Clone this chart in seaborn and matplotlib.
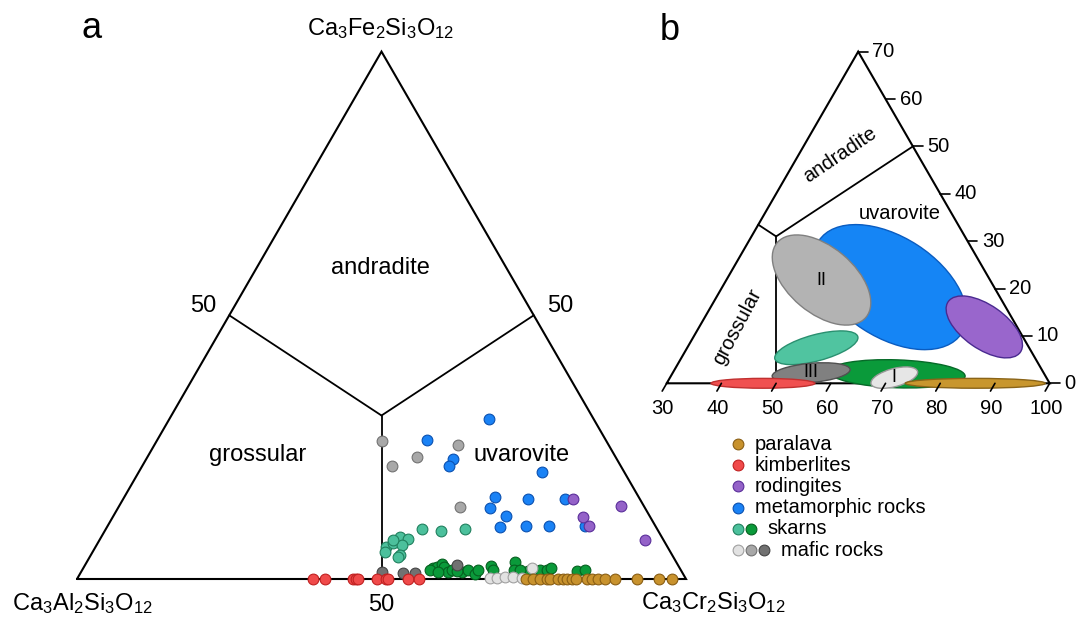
import numpy as np
import matplotlib
matplotlib.use("Agg")
import matplotlib.pyplot as plt
import seaborn as sns
from matplotlib.patches import Ellipse

sns.set_theme(style="white")
plt.rcParams["font.family"] = ["Liberation Sans", "DejaVu Sans"]
plt.rcParams["text.color"] = "black"
plt.rcParams["mathtext.fontset"] = "custom"
plt.rcParams["mathtext.rm"] = "Liberation Sans"
plt.rcParams["mathtext.it"] = "Liberation Sans:italic"
plt.rcParams["mathtext.bf"] = "Liberation Sans:bold"

# --- garnet compositions, mol % uvarovite (Cr) and andradite (Fe); rest is grossular
paralava_cr = [73.8, 74.9, 76.0, 77.1, 77.7, 79.0, 79.8, 80.4, 81.2, 82.0, 83.7, 84.5,
               85.6, 86.7, 88.3, 92.0, 95.5, 97.7]
paralava_fe = [0.0, 0.0, 0.0, 0.0, 0.0, 0.0, 0.0, 0.0, 0.0, 0.0, 0.0, 0.0,
               0.0, 0.0, 0.0, 0.0, 0.0, 0.0]
kimberlite_cr = [38.7, 40.7, 45.3, 45.8, 46.2, 49.2, 50.7, 51.1, 54.4, 56.2]
kimberlite_fe = [0.0, 0.0, 0.0, 0.0, 0.0, 0.0, 0.0, 0.0, 0.0, 0.0]
rodingite_cr = [73.9, 82.5, 77.2, 79.1, 89.5]
rodingite_fe = [15.1, 13.8, 11.8, 10.1, 7.4]
metamorphic_cr = [52.4, 44.4, 50.4, 50.4, 66.3, 60.9, 66.4, 72.6, 61.0, 64.5, 64.6,
                  68.7, 72.4, 78.4]
metamorphic_fe = [30.4, 26.3, 22.8, 21.5, 20.2, 15.6, 15.2, 15.2, 13.5, 12.0, 9.8,
                  10.1, 10.1, 10.1]
skarn_teal_cr = [51.9, 55.2, 59.0, 47.7, 48.0, 48.4, 49.0, 50.6, 50.1, 50.8, 50.7, 48.2]
skarn_teal_fe = [9.4, 9.1, 9.4, 6.1, 5.2, 6.9, 8.0, 7.6, 6.5, 4.6, 4.1, 7.4]
skarn_green_cr = [57.5, 57.9, 58.5, 59.1, 60.3, 60.7, 62.5, 63.4, 64.9, 65.0, 66.8, 67.5,
                  70.3, 70.9, 57.1, 58.6, 61.6, 73.3, 75.2, 76.3, 76.9, 81.3, 82.5, 71.9]
skarn_green_fe = [2.0, 2.3, 2.8, 2.3, 1.4, 1.7, 1.4, 1.7, 1.0, 1.8, 2.5, 1.7,
                  3.3, 1.7, 1.7, 1.4, 1.6, 1.6, 1.7, 1.7, 2.0, 1.6, 1.8, 1.7]
mafic_mid_cr = [36.9, 41.0, 44.3, 49.8, 56.1]
mafic_mid_fe = [26.2, 21.5, 23.2, 25.5, 13.7]
mafic_dark_cr = [49.4, 53.0, 54.9, 61.0]
mafic_dark_fe = [1.3, 1.2, 1.2, 2.7]
mafic_light_cr = [67.8, 68.9, 70.1, 71.4, 73.0, 73.7]
mafic_light_fe = [0.1, 0.1, 0.4, 0.4, 0.1, 2.1]

# composition fields of panel b (centre composition, size in % units, tilt)
field_names = ["metamorphic", "II", "rodingites", "skarns teal", "skarns green",
               "III", "I", "kimberlites", "paralava"]
field_cr = [60.7, 47.4, 82.1, 53.6, 71.1, 55.3, 71.0, 47.6, 86.4]
field_fe = [20.3, 21.8, 11.9, 7.5, 2.0, 2.2, 1.2, 0.0, 0.0]
field_width = [31.1, 21.2, 16.1, 15.7, 24.9, 14.3, 8.8, 19.0, 25.6]
field_height = [18.3, 12.1, 8.0, 4.8, 5.1, 3.5, 3.3, 1.8, 1.8]
field_angle = [-33, -40, -35, 15, -2, 5, 15, 0, 0]

# boundary junction of the three fields
junction_cr, junction_fe = 34.5, 31.0

b_ticks = [30, 40, 50, 60, 70, 80, 90, 100]
r_ticks = [0, 10, 20, 30, 40, 50, 60, 70]

colors = {
    "paralava": ("#c8922d", "#8a5e14"),
    "kimberlites": ("#f04a4a", "#c02020"),
    "rodingites": ("#9462c8", "#5a2e9a"),
    "metamorphic": ("#1a82f5", "#0a50b0"),
    "skarns teal": ("#4cc09c", "#20805e"),
    "skarns green": ("#0a9a3a", "#05601f"),
    "mafic light": ("#e2e2e2", "#a0a0a0"),
    "mafic mid": ("#a8a8a8", "#727272"),
    "mafic dark": ("#717171", "#444444"),
}
field_colors = {
    "metamorphic": ("#1585f5", "#0a5cc0"),
    "II": ("#b3b3b3", "#808080"),
    "rodingites": ("#9966cc", "#4a2a90"),
    "skarns teal": ("#50c4a0", "#2a9070"),
    "skarns green": ("#0a9a3a", "#066a28"),
    "III": ("#808080", "#505050"),
    "I": ("#e6e6e6", "#999999"),
    "kimberlites": ("#f05050", "#c03030"),
    "paralava": ("#c8962e", "#8a6418"),
}


def tern(cr, fe):
    cr = np.asarray(cr, dtype=float)
    fe = np.asarray(fe, dtype=float)
    return cr + fe / 2.0, fe * np.sqrt(3) / 2.0


W, H = 1076, 618
fig = plt.figure(figsize=(W / 100, H / 100), dpi=100)


def full_axes(x0_px, y0_px, x0_val, scale):
    # axes over the whole figure; data value x0_val/0 sits at pixel (x0_px, y0_px)
    ax = fig.add_axes([0, 0, 1, 1])
    ax.set_xlim(x0_val - x0_px / scale, x0_val + (W - x0_px) / scale)
    ax.set_ylim(-(H - y0_px) / scale, y0_px / scale)
    ax.axis("off")
    return ax


def ftext(x, y, s, **kw):
    fig.text(x / W, 1 - y / H, s, **kw)


# ---------------- panel a ----------------
ax_a = full_axes(77, 579, 0, 6.09)
corners = tern([0, 100, 0, 0], [0, 0, 100, 0])
ax_a.plot(corners[0], corners[1], color="black", lw=1.5, solid_joinstyle="miter")
jx, jy = tern(junction_cr, junction_fe)
for cr, fe in [(0, 50), (50, 50), (50, 0)]:
    ex, ey = tern(cr, fe)
    ax_a.plot([jx, ex], [jy, ey], color="black", lw=1.3)

groups = [
    ("mafic mid", mafic_mid_cr, mafic_mid_fe),
    ("metamorphic", metamorphic_cr, metamorphic_fe),
    ("rodingites", rodingite_cr, rodingite_fe),
    ("skarns teal", skarn_teal_cr, skarn_teal_fe),
    ("skarns green", skarn_green_cr, skarn_green_fe),
    ("mafic dark", mafic_dark_cr, mafic_dark_fe),
    ("mafic light", mafic_light_cr, mafic_light_fe),
    ("kimberlites", kimberlite_cr, kimberlite_fe),
    ("paralava", paralava_cr, paralava_fe),
]
for name, cr, fe in groups:
    x, y = tern(cr, fe)
    fill, edge = colors[name]
    sns.scatterplot(x=x, y=y, ax=ax_a, color=fill, edgecolor=edge, s=60,
                    linewidth=0.8, zorder=3, legend=False, clip_on=False)

fs_a = 17
ftext(92, 28, "a", fontsize=26, ha="center", va="center")
ftext(381, 35, r"Ca$_3$Fe$_2$Si$_3$O$_{12}$", fontsize=fs_a, ha="center", va="baseline")
ftext(12, 610, r"Ca$_3$Al$_2$Si$_3$O$_{12}$", fontsize=fs_a, ha="left", va="baseline")
ftext(641, 609, r"Ca$_3$Cr$_2$Si$_3$O$_{12}$", fontsize=fs_a, ha="left", va="baseline")
ftext(380, 268, "andradite", fontsize=fs_a, ha="center", va="center")
ftext(258, 455, "grossular", fontsize=fs_a, ha="center", va="center")
ftext(522, 455, "uvarovite", fontsize=fs_a, ha="center", va="center")
ftext(203, 306, "50", fontsize=fs_a, ha="center", va="center")
ftext(560, 306, "50", fontsize=fs_a, ha="center", va="center")
ftext(381, 605, "50", fontsize=fs_a, ha="center", va="center")

# ---------------- panel b ----------------
sb = 5.471
ax_b = full_axes(666.7, 383.3, 30, sb)
bx, by = tern([30, 100, 30, 30], [0, 0, 70, 0])
ax_b.plot(bx, by, color="black", lw=1.5, solid_joinstyle="miter")

# boundaries cut to the Cr >= 30 window
ex, ey = tern(50, 0)
ax_b.plot([jx, ex], [jy, ey], color="black", lw=1.3)
ex, ey = tern(50, 50)
ax_b.plot([jx, ex], [jy, ey], color="black", lw=1.3)
t = (junction_cr - 30) / junction_cr
ex, ey = tern(30, junction_fe + (50 - junction_fe) * t)
ax_b.plot([jx, ex], [jy, ey], color="black", lw=1.3)

for name, cr, fe, w, h, ang in zip(field_names, field_cr, field_fe, field_width,
                                   field_height, field_angle):
    fill, edge = field_colors[name]
    ax_b.add_patch(Ellipse(tern(cr, fe), w, h, angle=ang, facecolor=fill,
                           edgecolor=edge, lw=1.0, zorder=2))
    if name in ("I", "II", "III"):
        x, y = tern(cr, fe)
        ax_b.text(x, y, name, fontsize=13, ha="center", va="center", zorder=4)

tick_len = 9 / sb
for c in b_ticks:
    x, y = tern(c, 0)
    ax_b.plot([x, x - 0.5 * tick_len], [y, y - 0.866 * tick_len], color="black", lw=1.2)
    ax_b.text(x - 0.7, -25.5 / sb, str(c), fontsize=14.5, ha="center", va="center")
for f in r_ticks:
    x, y = tern(100 - f, f)
    ax_b.plot([x, x + 1.8], [y, y], color="black", lw=1.2)
    ax_b.text(x + 2.6, y, str(f), fontsize=14.5, ha="left", va="center")

ftext(670, 30, "b", fontsize=26, ha="center", va="center")
ftext(840, 155, "andradite", fontsize=14.5, ha="center", va="center", rotation=34)
ftext(900, 213, "uvarovite", fontsize=14.5, ha="center", va="center")
ftext(737, 327, "grossular", fontsize=14.5, ha="center", va="center", rotation=62)

# ---------------- legend ----------------
ax_l = fig.add_axes([0, 0, 1, 1])
ax_l.set_xlim(0, W)
ax_l.set_ylim(H, 0)
ax_l.axis("off")
legend_rows = [
    ("paralava", ["paralava"]),
    ("kimberlites", ["kimberlites"]),
    ("rodingites", ["rodingites"]),
    ("metamorphic rocks", ["metamorphic"]),
    ("skarns", ["skarns teal", "skarns green"]),
    ("mafic rocks", ["mafic light", "mafic mid", "mafic dark"]),
]
for i, (label, keys) in enumerate(legend_rows):
    y = 444 + i * 21.2
    xs = [738 + 12.8 * k for k in range(len(keys))]
    for x, key in zip(xs, keys):
        fill, edge = colors[key]
        ax_l.scatter([x], [y], s=60, color=fill, edgecolor=edge, linewidth=0.8)
    ax_l.text(xs[-1] + 17, y, label, fontsize=14.5, ha="left", va="center")

fig.savefig("out.png", dpi=100)
